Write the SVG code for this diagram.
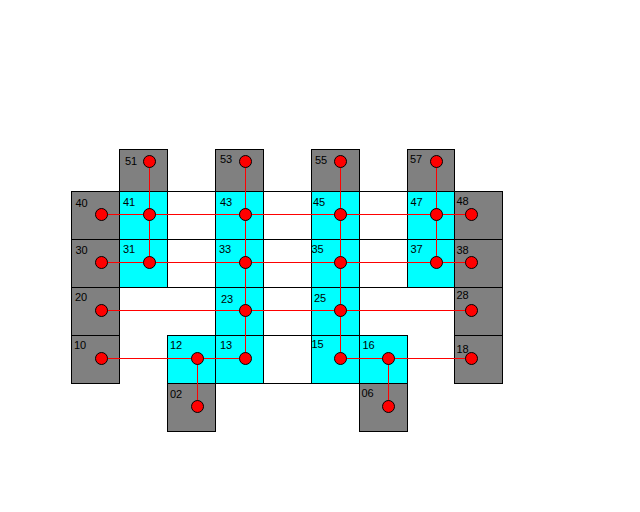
<svg xmlns="http://www.w3.org/2000/svg" width="640" height="512" viewBox="0 0 640 512">
<style>
.g{fill:#808080;stroke:#000;stroke-width:1}
.c{fill:#00FFFF;stroke:#000;stroke-width:1}
.w{fill:#FFFFFF;stroke:#000;stroke-width:1}
.e{stroke:#FF0000;stroke-width:1;fill:none}
.p{fill:#FF0000;stroke:#000;stroke-width:1}
text{font-family:"Liberation Sans",Arial,sans-serif;font-size:11px;fill:#000}
</style>
<rect width="640" height="512" fill="#fff"/>
<g id="cells">
<rect class="g" x="119.5" y="149.5" width="48" height="42"/>
<rect class="g" x="215.5" y="149.5" width="48" height="42"/>
<rect class="g" x="311.5" y="149.5" width="48" height="42"/>
<rect class="g" x="407.5" y="149.5" width="47" height="42"/>
<rect class="g" x="71.5" y="191.5" width="48" height="48"/>
<rect class="g" x="71.5" y="239.5" width="48" height="48"/>
<rect class="g" x="71.5" y="287.5" width="48" height="48"/>
<rect class="g" x="71.5" y="335.5" width="48" height="48"/>
<rect class="g" x="454.5" y="191.5" width="48" height="48"/>
<rect class="g" x="454.5" y="239.5" width="48" height="48"/>
<rect class="g" x="454.5" y="287.5" width="48" height="48"/>
<rect class="g" x="454.5" y="335.5" width="48" height="48"/>
<rect class="g" x="167.5" y="383.5" width="48" height="48"/>
<rect class="g" x="359.5" y="383.5" width="48" height="48"/>
<rect class="c" x="119.5" y="191.5" width="48" height="48"/>
<rect class="c" x="119.5" y="239.5" width="48" height="48"/>
<rect class="c" x="215.5" y="191.5" width="48" height="48"/>
<rect class="c" x="215.5" y="239.5" width="48" height="48"/>
<rect class="c" x="215.5" y="287.5" width="48" height="48"/>
<rect class="c" x="215.5" y="335.5" width="48" height="48"/>
<rect class="c" x="311.5" y="191.5" width="48" height="48"/>
<rect class="c" x="311.5" y="239.5" width="48" height="48"/>
<rect class="c" x="311.5" y="287.5" width="48" height="48"/>
<rect class="c" x="311.5" y="335.5" width="48" height="48"/>
<rect class="c" x="407.5" y="191.5" width="47" height="48"/>
<rect class="c" x="407.5" y="239.5" width="47" height="48"/>
<rect class="c" x="167.5" y="335.5" width="48" height="48"/>
<rect class="c" x="359.5" y="335.5" width="48" height="48"/>
<rect class="w" x="167.5" y="191.5" width="48" height="48"/>
<rect class="w" x="167.5" y="239.5" width="48" height="48"/>
<rect class="w" x="263.5" y="191.5" width="48" height="48"/>
<rect class="w" x="263.5" y="239.5" width="48" height="48"/>
<rect class="w" x="263.5" y="287.5" width="48" height="48"/>
<rect class="w" x="263.5" y="335.5" width="48" height="48"/>
<rect class="w" x="359.5" y="191.5" width="48" height="48"/>
<rect class="w" x="359.5" y="239.5" width="48" height="48"/>
</g>
<g id="connectors" class="e">
<line x1="101.5" y1="214.5" x2="471.5" y2="214.5"/>
<line x1="101.5" y1="262.5" x2="471.5" y2="262.5"/>
<line x1="101.5" y1="310.5" x2="471.5" y2="310.5"/>
<line x1="101.5" y1="358.5" x2="245.5" y2="358.5"/>
<line x1="340.5" y1="358.5" x2="471.5" y2="358.5"/>
<line x1="149.5" y1="161.5" x2="149.5" y2="262.5"/>
<line x1="245.5" y1="161.5" x2="245.5" y2="358.5"/>
<line x1="340.5" y1="161.5" x2="340.5" y2="358.5"/>
<line x1="436.5" y1="161.5" x2="436.5" y2="262.5"/>
<line x1="197.5" y1="358.5" x2="197.5" y2="406.5"/>
<line x1="388.5" y1="358.5" x2="388.5" y2="406.5"/>
</g>
<g id="n51"><circle class="p" cx="149.5" cy="161.5" r="6"/><text x="125" y="165">51</text></g>
<g id="n53"><circle class="p" cx="245.5" cy="161.5" r="6"/><text x="220" y="163">53</text></g>
<g id="n55"><circle class="p" cx="340.5" cy="161.5" r="6"/><text x="315" y="164">55</text></g>
<g id="n57"><circle class="p" cx="436.5" cy="161.5" r="6"/><text x="410" y="163">57</text></g>
<g id="n40"><circle class="p" cx="101.5" cy="214.5" r="6"/><text x="75.5" y="207">40</text></g>
<g id="n41"><circle class="p" cx="149.5" cy="214.5" r="6"/><text x="123" y="206">41</text></g>
<g id="n43"><circle class="p" cx="245.5" cy="214.5" r="6"/><text x="220" y="206">43</text></g>
<g id="n45"><circle class="p" cx="340.5" cy="214.5" r="6"/><text x="313" y="206">45</text></g>
<g id="n47"><circle class="p" cx="436.5" cy="214.5" r="6"/><text x="410.5" y="206">47</text></g>
<g id="n48"><circle class="p" cx="471.5" cy="214.5" r="6"/><text x="456.5" y="205">48</text></g>
<g id="n30"><circle class="p" cx="101.5" cy="262.5" r="6"/><text x="75.5" y="254">30</text></g>
<g id="n31"><circle class="p" cx="149.5" cy="262.5" r="6"/><text x="123" y="253">31</text></g>
<g id="n33"><circle class="p" cx="245.5" cy="262.5" r="6"/><text x="219" y="253">33</text></g>
<g id="n35"><circle class="p" cx="340.5" cy="262.5" r="6"/><text x="311.5" y="253">35</text></g>
<g id="n37"><circle class="p" cx="436.5" cy="262.5" r="6"/><text x="410.5" y="253">37</text></g>
<g id="n38"><circle class="p" cx="471.5" cy="262.5" r="6"/><text x="456.5" y="254">38</text></g>
<g id="n20"><circle class="p" cx="101.5" cy="310.5" r="6"/><text x="75" y="301">20</text></g>
<g id="n23"><circle class="p" cx="245.5" cy="310.5" r="6"/><text x="221" y="303">23</text></g>
<g id="n25"><circle class="p" cx="340.5" cy="310.5" r="6"/><text x="314" y="302">25</text></g>
<g id="n28"><circle class="p" cx="471.5" cy="310.5" r="6"/><text x="456.5" y="299">28</text></g>
<g id="n10"><circle class="p" cx="101.5" cy="358.5" r="6"/><text x="74" y="349">10</text></g>
<g id="n12"><circle class="p" cx="197.5" cy="358.5" r="6"/><text x="170" y="349">12</text></g>
<g id="n13"><circle class="p" cx="245.5" cy="358.5" r="6"/><text x="220" y="349">13</text></g>
<g id="n15"><circle class="p" cx="340.5" cy="358.5" r="6"/><text x="311.5" y="348">15</text></g>
<g id="n16"><circle class="p" cx="388.5" cy="358.5" r="6"/><text x="362.5" y="349">16</text></g>
<g id="n18"><circle class="p" cx="471.5" cy="358.5" r="6"/><text x="456.5" y="353">18</text></g>
<g id="n02"><circle class="p" cx="197.5" cy="406.5" r="6"/><text x="170" y="398">02</text></g>
<g id="n06"><circle class="p" cx="388.5" cy="406.5" r="6"/><text x="361.5" y="397">06</text></g>
</svg>
